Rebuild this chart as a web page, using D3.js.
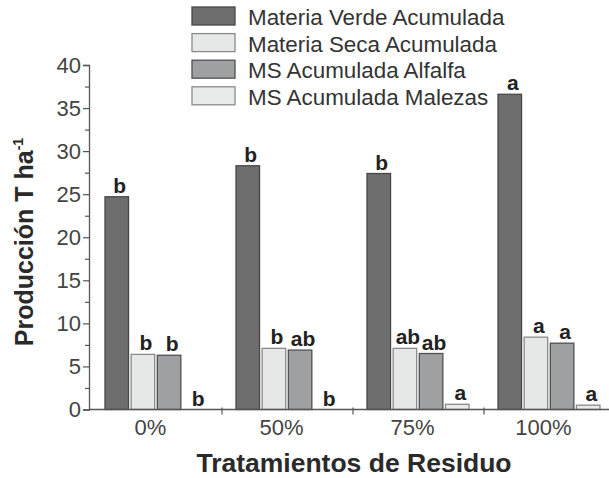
<!DOCTYPE html>
<html>
<head>
<meta charset="utf-8">
<script src="https://cdn.jsdelivr.net/npm/d3@7/dist/d3.min.js"></script>
<style>
  html, body { margin: 0; padding: 0; background: #fff; }
  svg { display: block; font-family: "Liberation Sans", Arial, Helvetica, sans-serif; }
</style>
</head>
<body>
<svg id="chart" width="609" height="478"></svg>
<script>
// Treatments (x groups)
const categories = ["0%", "50%", "75%", "100%"];
// Series names
const seriesNames = [
  "Materia Verde Acumulada",
  "Materia Seca Acumulada",
  "MS Acumulada Alfalfa",
  "MS Acumulada Malezas"
];
// Values (T ha-1) per series, in category order
const materiaVerde = [24.7, 28.3, 27.4, 36.6];
const materiaSeca  = [6.4, 7.1, 7.1, 8.4];
const msAlfalfa    = [6.3, 6.9, 6.5, 7.7];
const msMalezas    = [0.0, 0.0, 0.6, 0.5];
// Significance letters per series
const lettersVerde   = ["b", "b", "b", "a"];
const lettersSeca    = ["b", "b", "ab", "a"];
const lettersAlfalfa = ["b", "ab", "ab", "a"];
const lettersMalezas = ["b", "b", "a", "a"];
// Y-axis ticks
const yTicksMajor = [0, 5, 10, 15, 20, 25, 30, 35, 40];
const yTicksMinor = [2.5, 7.5, 12.5, 17.5, 22.5, 27.5, 32.5, 37.5];

const seriesValues = [materiaVerde, materiaSeca, msAlfalfa, msMalezas];
const seriesLetters = [lettersVerde, lettersSeca, lettersAlfalfa, lettersMalezas];
const fills   = ["#6e6e6e", "#e6e7e7", "#9fa0a2", "#e9eaea"];
const strokes = ["#474747", "#8a8a8a", "#505050", "#8a8a8a"];

const svg = d3.select("#chart");

const y = d3.scaleLinear().domain([0, 40]).range([409.5, 65]);
const x0 = d3.scaleBand().domain(categories).range([91, 615]);
const x1 = d3.scaleBand().domain(d3.range(seriesNames.length))
  .range([14, 116]).paddingInner(0.1);

const rows = categories.map((c, i) => ({
  cat: c,
  bars: seriesValues.map((vals, s) => ({ s, v: vals[i], letter: seriesLetters[s][i] }))
}));

// Bars
const groups = svg.append("g").selectAll("g")
  .data(rows).join("g")
  .attr("transform", d => `translate(${x0(d.cat)},0)`);

groups.selectAll("rect")
  .data(d => d.bars).join("rect")
  .attr("x", d => x1(d.s))
  .attr("width", x1.bandwidth())
  .attr("y", d => y(d.v))
  .attr("height", d => y(0) - y(d.v))
  .attr("fill", d => fills[d.s])
  .attr("stroke", d => strokes[d.s])
  .attr("stroke-width", 1.3);

// Significance letters
groups.selectAll("text")
  .data(d => d.bars).join("text")
  .attr("x", d => x1(d.s) + x1.bandwidth() / 2 + 3)
  .attr("y", d => y(d.v) - 4)
  .attr("text-anchor", "middle")
  .attr("font-weight", "bold")
  .attr("font-size", 21)
  .attr("fill", "#222")
  .text(d => d.letter);

// Y axis
const yAxisG = svg.append("g").attr("transform", "translate(89,0)");
yAxisG.call(d3.axisLeft(y).tickValues(yTicksMajor).tickSize(6).tickPadding(2).tickFormat(d3.format("d")));
yAxisG.append("g").call(d3.axisLeft(y).tickValues(yTicksMinor).tickSize(4).tickFormat(""));
yAxisG.selectAll(".domain").attr("stroke", "#555").attr("stroke-width", 1.3);
yAxisG.selectAll(".tick line").attr("stroke", "#555").attr("stroke-width", 1.2);
yAxisG.selectAll("path.domain").filter((d, i, n) => n[i].parentNode !== yAxisG.node()).remove();
yAxisG.selectAll(".tick text")
  .attr("font-size", 22).attr("fill", "#444")
  .attr("font-family", "Liberation Sans, Arial, sans-serif");

// X axis baseline
svg.append("line")
  .attr("x1", 89).attr("x2", 609)
  .attr("y1", y(0)).attr("y2", y(0))
  .attr("stroke", "#555").attr("stroke-width", 1.3);

// Separator ticks between groups
svg.append("g").selectAll("line")
  .data(categories.slice(1)).join("line")
  .attr("x1", d => x0(d)).attr("x2", d => x0(d))
  .attr("y1", y(0) - 2).attr("y2", y(0) + 5)
  .attr("stroke", "#555").attr("stroke-width", 1.2);

// Category labels
svg.append("g").selectAll("text")
  .data(categories).join("text")
  .attr("x", d => x0(d) + x0.bandwidth() / 2 - 6)
  .attr("y", 435)
  .attr("text-anchor", "middle")
  .attr("font-size", 22)
  .attr("fill", "#444")
  .text(d => d);

// Axis titles
svg.append("text")
  .attr("x", 354).attr("y", 472)
  .attr("text-anchor", "middle")
  .attr("font-weight", "bold")
  .attr("font-size", 26.5)
  .attr("fill", "#2a2a2a")
  .text("Tratamientos de Residuo");

const yTitle = svg.append("text")
  .attr("transform", "translate(33,242) rotate(-90)")
  .attr("text-anchor", "middle")
  .attr("font-weight", "bold")
  .attr("font-size", 25)
  .attr("fill", "#2a2a2a");
yTitle.append("tspan").text("Producción T ha");
yTitle.append("tspan").attr("font-size", 14).attr("dy", -10).text("-1");

// Legend
const legend = svg.append("g").selectAll("g")
  .data(seriesNames).join("g")
  .attr("transform", (d, i) => `translate(192,${7 + i * 26.6})`);
legend.append("rect")
  .attr("width", 43).attr("height", 18)
  .attr("fill", (d, i) => fills[i])
  .attr("stroke", (d, i) => strokes[i])
  .attr("stroke-width", 1.3);
legend.append("text")
  .attr("x", 56).attr("y", 18)
  .attr("font-size", 22.4)
  .attr("fill", "#333")
  .text(d => d);
</script>
</body>
</html>
